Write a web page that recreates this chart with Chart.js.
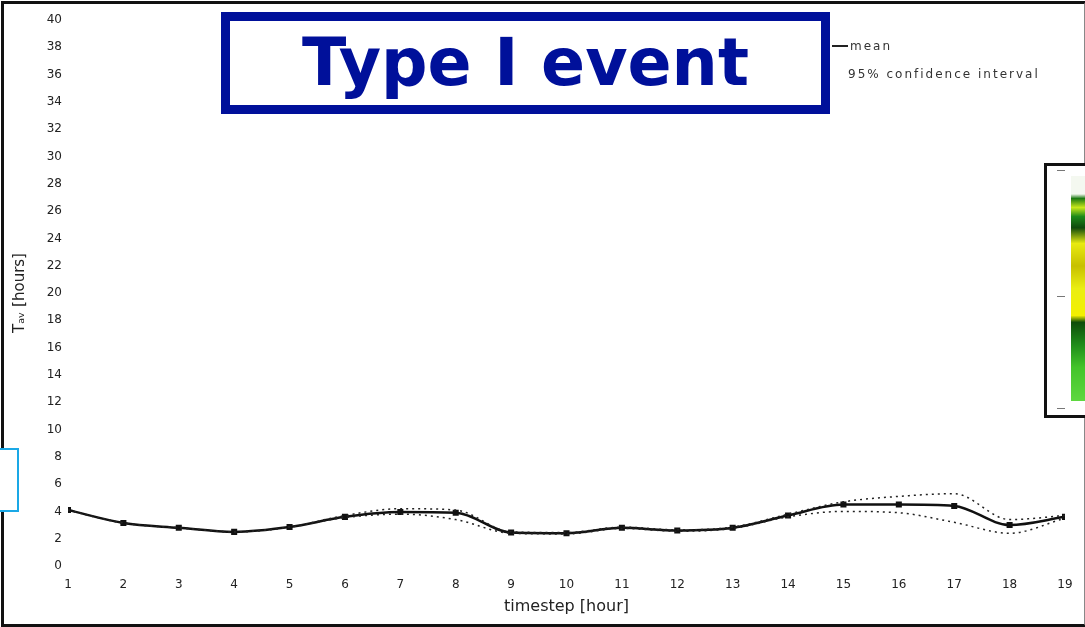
<!DOCTYPE html>
<html lang="en">
<head>
    <meta charset="UTF-8">
    <title>Type I event</title>
    <script src="https://cdn.jsdelivr.net/npm/chart.js"></script>
    <style>
        html, body { margin: 0; padding: 0; background: #fff; }
        body { width: 1085px; height: 627px; position: relative; overflow: hidden; font-family: "DejaVu Sans", Verdana, sans-serif; }
        #frame { position: absolute; left: 1px; top: 1px; width: 1080px; height: 620px; border: 3px solid #111; border-right: 2px solid #888; }
        #wrap { position: absolute; left: 0; top: 0; width: 1085px; height: 627px; }
        #titleBox { position: absolute; left: 221px; top: 12px; width: 591px; height: 84px; border: 9px solid #00109a; background: #fff;
            color: #00109a; font-family: "DejaVu Sans", Verdana, sans-serif; font-weight: bold; font-size: 65px; line-height: 84px; text-align: center; }
        #legend { position: absolute; left: 832px; top: 32px; font-size: 12px; color: #333; letter-spacing: 2px; }
        #legend .row { height: 28px; display: flex; align-items: center; }
        #legend .swatch { width: 16px; border-top: 2px solid #222; margin-right: 2px; }
        #cyanBox { position: absolute; left: -3px; top: 448px; width: 18px; height: 60px; border: 2px solid #1aa8e6; background: #fff; }
        #inset { position: absolute; left: 1044px; top: 163px; width: 60px; height: 249px; border: 3px solid #111; background: #fff; }
        #inset .col { position: absolute; left: 24px; top: 10px; width: 20px; height: 225px; }
        #inset .tick { position: absolute; left: 10px; width: 8px; border-top: 1px solid #777; }
    </style>
</head>
<body>
    <div id="frame"></div>
    <div id="wrap"><canvas id="chart" width="1085" height="627"></canvas></div>
    <div id="titleBox">Type I event</div>
    <div id="legend">
        <div class="row"><span class="swatch"></span><span id="lg0"></span></div>
        <div class="row" style="padding-left:16px"><span id="lg1"></span></div>
    </div>
    <div id="cyanBox"></div>
    <div id="inset">
        <div class="tick" style="top:4px"></div>
        <div class="tick" style="top:130px"></div>
        <div class="tick" style="top:242px"></div>
        <div class="col" style="background: linear-gradient(to bottom, #f4f8f0 0%, #f4f8f0 8%, #1c7a12 10%, #c8e81a 14%, #1d8a1a 18%, #0f4a0c 23%, #e8ea10 30%, #c7c000 40%, #eaee12 50%, #f3f000 62%, #0e4d0a 65%, #1f8c1a 75%, #43c42a 85%, #5ed840 100%);"></div>
    </div>

    <script>
        const timesteps = [1, 2, 3, 4, 5, 6, 7, 8, 9, 10, 11, 12, 13, 14, 15, 16, 17, 18, 19];
        const meanValues = [4.1, 3.15, 2.8, 2.5, 2.85, 3.6, 3.95, 3.9, 2.45, 2.4, 2.8, 2.6, 2.8, 3.7, 4.5, 4.5, 4.4, 3.0, 3.6];
        const upperValues = [4.1, 3.15, 2.8, 2.5, 2.85, 3.7, 4.2, 4.1, 2.5, 2.45, 2.85, 2.65, 2.85, 3.8, 4.7, 5.1, 5.3, 3.4, 3.7];
        const lowerValues = [4.1, 3.15, 2.8, 2.5, 2.85, 3.55, 3.8, 3.4, 2.4, 2.35, 2.75, 2.55, 2.75, 3.6, 4.0, 3.9, 3.2, 2.4, 3.5];
        const seriesLabels = ['mean', '95% confidence interval'];
        const xTitle = 'timestep [hour]';
        const yTitle = 'T\u2090\u1d65 [hours]';

        document.getElementById('lg0').textContent = seriesLabels[0];
        document.getElementById('lg1').textContent = seriesLabels[1];

        const toPoints = vals => vals.map((v, i) => ({ x: timesteps[i], y: v }));
        const font = size => ({ family: 'DejaVu Sans', size: size });

        const ctx = document.getElementById('chart').getContext('2d');
        const chart = new Chart(ctx, {
            type: 'line',
            data: {
                datasets: [
                    {
                        label: seriesLabels[1],
                        data: toPoints(upperValues),
                        borderColor: '#222',
                        borderWidth: 1.5,
                        borderDash: [2, 4],
                        pointRadius: 0,
                        cubicInterpolationMode: 'monotone'
                    },
                    {
                        label: seriesLabels[1],
                        data: toPoints(lowerValues),
                        borderColor: '#222',
                        borderWidth: 1.5,
                        borderDash: [2, 4],
                        pointRadius: 0,
                        cubicInterpolationMode: 'monotone'
                    },
                    {
                        label: seriesLabels[0],
                        data: toPoints(meanValues),
                        borderColor: '#111',
                        backgroundColor: '#111',
                        borderWidth: 2.5,
                        pointStyle: 'rect',
                        pointRadius: 2.5,
                        cubicInterpolationMode: 'monotone'
                    }
                ]
            },
            options: {
                responsive: false,
                animation: false,
                layout: { padding: { left: 0, top: 20, right: 20, bottom: 0 } },
                plugins: { legend: { display: false }, tooltip: { enabled: false } },
                scales: {
                    x: {
                        type: 'linear',
                        min: 1,
                        max: 19,
                        grid: { display: false, drawTicks: false },
                        border: { display: false },
                        ticks: { stepSize: 1, padding: 12, color: '#222', font: font(12) },
                        title: { display: true, text: xTitle, color: '#222', padding: { top: 0, bottom: 11 }, font: font(16) },
                        afterFit: scale => { scale.height = 61; }
                    },
                    y: {
                        min: 0,
                        max: 40,
                        grid: { display: false, drawTicks: false },
                        border: { display: false },
                        ticks: { stepSize: 2, padding: 6, color: '#222', font: font(12) },
                        title: { display: true, text: yTitle, color: '#222', padding: { top: 11, bottom: 0 }, font: font(15) },
                        afterFit: scale => { scale.width = 68; }
                    }
                }
            }
        });
    </script>
</body>
</html>
